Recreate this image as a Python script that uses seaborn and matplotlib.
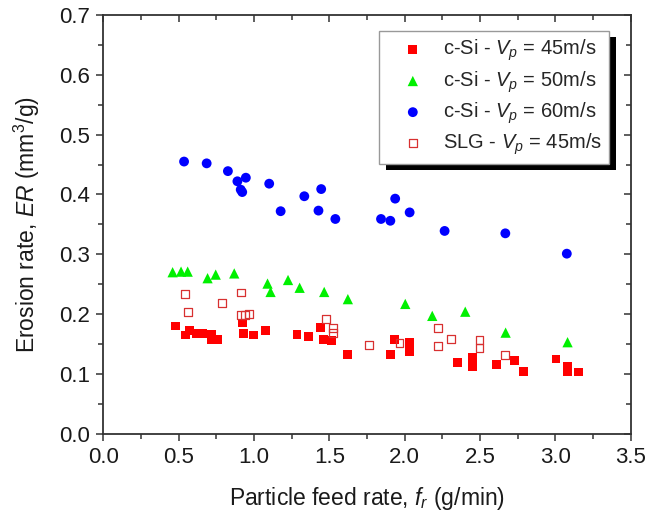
import matplotlib
matplotlib.use("Agg")
import matplotlib.pyplot as plt
import seaborn as sns
import pandas as pd
from matplotlib.patches import Rectangle
from matplotlib.ticker import MultipleLocator

# ---- data ----
si45_x = [0.480, 0.544, 0.571, 0.621, 0.657, 0.719, 0.715, 0.760, 0.925, 0.929,
          0.995, 1.078, 1.286, 1.363, 1.444, 1.460, 1.515, 1.621, 1.935, 1.905,
          2.033, 2.033, 2.351, 2.448, 2.448, 2.608, 2.728, 2.791, 3.004, 3.079,
          3.079, 3.156]
si45_y = [0.180, 0.165, 0.173, 0.168, 0.168, 0.166, 0.157, 0.158, 0.185, 0.168,
          0.165, 0.173, 0.166, 0.162, 0.177, 0.158, 0.156, 0.132, 0.157, 0.132,
          0.152, 0.138, 0.119, 0.128, 0.112, 0.116, 0.123, 0.104, 0.125, 0.112,
          0.103, 0.103]

si50_x = [0.460, 0.516, 0.560, 0.692, 0.746, 0.869, 1.090, 1.110, 1.226, 1.303,
          1.466, 1.623, 2.004, 2.183, 2.402, 2.670, 3.081]
si50_y = [0.270, 0.271, 0.271, 0.260, 0.266, 0.268, 0.251, 0.237, 0.257, 0.244,
          0.237, 0.225, 0.217, 0.197, 0.204, 0.169, 0.153]

si60_x = [0.536, 0.686, 0.827, 0.890, 0.946, 0.912, 0.922, 1.101, 1.177, 1.334,
          1.446, 1.428, 1.540, 1.937, 1.843, 1.905, 2.033, 2.265, 2.668, 3.076]
si60_y = [0.455, 0.452, 0.439, 0.422, 0.428, 0.408, 0.404, 0.418, 0.372, 0.397,
          0.409, 0.373, 0.359, 0.393, 0.359, 0.356, 0.370, 0.339, 0.335, 0.301]

slg45_x = [0.544, 0.560, 0.786, 0.912, 0.912, 0.938, 0.969, 1.480, 1.522, 1.522,
           1.762, 1.966, 2.221, 2.221, 2.305, 2.497, 2.497, 2.668]
slg45_y = [0.233, 0.203, 0.219, 0.236, 0.198, 0.198, 0.200, 0.192, 0.177, 0.168,
           0.149, 0.151, 0.177, 0.146, 0.158, 0.156, 0.143, 0.131]

labels = [r"c-Si - $\mathit{V}_{\mathit{p}}$ = 45m/s",
          r"c-Si - $\mathit{V}_{\mathit{p}}$ = 50m/s",
          r"c-Si - $\mathit{V}_{\mathit{p}}$ = 60m/s",
          r"SLG - $\mathit{V}_{\mathit{p}}$ = 45m/s"]

x_ticks = [0.0, 0.5, 1.0, 1.5, 2.0, 2.5, 3.0, 3.5]
y_ticks = [0.0, 0.1, 0.2, 0.3, 0.4, 0.5, 0.6, 0.7]

# ---- style ----
sns.set_theme(style="white")
plt.rcParams["font.family"] = ["Liberation Sans", "DejaVu Sans"]
plt.rcParams["mathtext.fontset"] = "custom"
plt.rcParams["mathtext.rm"] = "Liberation Sans"
plt.rcParams["mathtext.it"] = "Liberation Sans:italic"
plt.rcParams["mathtext.bf"] = "Liberation Sans:bold"

fig = plt.figure(figsize=(6.48, 5.14), dpi=100)
ax = fig.add_axes([0.1594, 0.1562, 0.9733 - 0.1594, 0.9708 - 0.1562])

d45 = pd.DataFrame({"x": si45_x, "y": si45_y})
d50 = pd.DataFrame({"x": si50_x, "y": si50_y})
d60 = pd.DataFrame({"x": si60_x, "y": si60_y})
dslg = pd.DataFrame({"x": slg45_x, "y": slg45_y})

sns.scatterplot(data=d45, x="x", y="y", ax=ax, marker="s", s=40,
                color="#ff0000", edgecolor="none", label=labels[0], zorder=3)
sns.scatterplot(data=d50, x="x", y="y", ax=ax, marker="^", s=55,
                color="#00f000", edgecolor="none", label=labels[1], zorder=3)
sns.scatterplot(data=d60, x="x", y="y", ax=ax, marker="o", s=50,
                color="#0000ff", edgecolor="none", label=labels[2], zorder=3)
sns.scatterplot(data=dslg, x="x", y="y", ax=ax, marker="s", s=32,
                facecolor="none", edgecolor="#d83030", linewidth=0.9,
                label=labels[3], zorder=4)

ax.set_xlim(0, 3.5)
ax.set_ylim(0, 0.7)
ax.set_xticks(x_ticks)
ax.set_yticks(y_ticks)
ax.set_xticklabels([f"{v:.1f}" for v in x_ticks])
ax.set_yticklabels([f"{v:.1f}" for v in y_ticks])
ax.xaxis.set_minor_locator(MultipleLocator(0.25))
ax.yaxis.set_minor_locator(MultipleLocator(0.05))

for sp in ax.spines.values():
    sp.set_visible(True)
    sp.set_color("#333333")
    sp.set_linewidth(1.3)

ax.tick_params(which="both", direction="out", color="#333333", width=1.1,
               bottom=True, left=True, top=False, right=False, labelsize=16,
               labelcolor="#1a1a1a")
ax.tick_params(which="major", length=4.8, pad=5)
ax.tick_params(which="minor", length=3.6)

# mirrored ticks on top/right pointing inward
ax2 = ax.secondary_xaxis("top")
ax2.set_xticks(x_ticks)
ax2.xaxis.set_minor_locator(MultipleLocator(0.25))
ax2.tick_params(which="both", direction="in", color="#333333", width=1.1,
                labeltop=False)
ax2.tick_params(which="major", length=4.8)
ax2.tick_params(which="minor", length=3.6)
ax2.spines["top"].set_visible(False)
ax3 = ax.secondary_yaxis("right")
ax3.set_yticks(y_ticks)
ax3.yaxis.set_minor_locator(MultipleLocator(0.05))
ax3.tick_params(which="both", direction="in", color="#333333", width=1.1,
                labelright=False)
ax3.tick_params(which="major", length=4.8)
ax3.tick_params(which="minor", length=3.6)
ax3.spines["right"].set_visible(False)

ax.set_xlabel(r"Particle feed rate, $\mathit{f}_{\mathit{r}}$ (g/min)",
              fontsize=16.5, labelpad=12, color="#1a1a1a")
ax.set_ylabel(r"Erosion rate, $\mathit{ER}$ (mm$^{3}$/g)",
              fontsize=16.5, labelpad=12, color="#1a1a1a")

leg = ax.legend(loc="upper right", bbox_to_anchor=(0.959, 0.962),
                fontsize=14.5, frameon=True, fancybox=False, framealpha=1,
                edgecolor="#999999", borderpad=0.35, labelspacing=0.28,
                handlelength=2.7, handletextpad=0.15, markerscale=1.0,
                borderaxespad=0)
leg.get_frame().set_linewidth(1.0)
leg.set_zorder(10)

fig.canvas.draw()
bb = leg.get_window_extent()
shadow = Rectangle((bb.x0 + 7, bb.y0 - 6), bb.width, bb.height,
                   transform=None, facecolor="black", edgecolor="none",
                   zorder=9)
ax.add_artist(shadow)

fig.savefig("out.png", dpi=100)
